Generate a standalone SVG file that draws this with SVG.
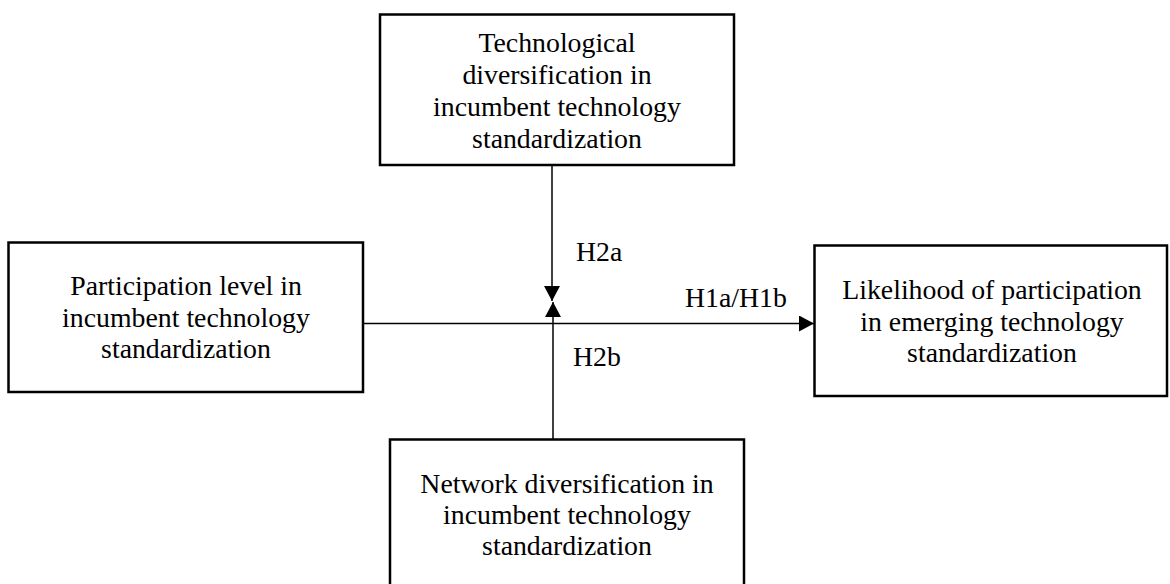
<svg xmlns="http://www.w3.org/2000/svg" width="1170" height="584" viewBox="0 0 1170 584">
  <style>
    .box { fill: #ffffff; stroke: #000000; stroke-width: 2.5; }
    .label { font-family: "Liberation Serif", "Times New Roman", serif; font-size: 27.8px; fill: #000000; }
    .mid { text-anchor: middle; }
    .edge { stroke: #000000; stroke-width: 1.5; fill: none; }
  </style>
  <defs>
    <marker id="arrow" viewBox="0 0 15 16" refX="15" refY="8" markerWidth="15" markerHeight="16" markerUnits="userSpaceOnUse" orient="auto">
      <path d="M0,0 L15,8 L0,16 Z" fill="#000000"/>
    </marker>
  </defs>

  <rect width="1170" height="584" fill="#ffffff"/>

  <g id="connectors">
    <line class="edge" x1="364" y1="323.5" x2="814" y2="323.5" marker-end="url(#arrow)"/>
    <line class="edge" x1="552" y1="166" x2="552" y2="301" marker-end="url(#arrow)"/>
    <line class="edge" x1="553" y1="439" x2="553" y2="302" marker-end="url(#arrow)"/>
    <text class="label" x="576" y="261">H2a</text>
    <text class="label" x="685" y="307">H1a/H1b</text>
    <text class="label" x="573" y="366">H2b</text>
  </g>

  <g id="tech-diversification">
    <rect class="box" x="380" y="14.5" width="354" height="150.5"/>
    <text class="label mid" x="557" y="52">Technological</text>
    <text class="label mid" x="557" y="84">diversification in</text>
    <text class="label mid" x="557" y="116">incumbent technology</text>
    <text class="label mid" x="557" y="148">standardization</text>
  </g>

  <g id="participation-level">
    <rect class="box" x="8.5" y="242.5" width="354.5" height="149.5"/>
    <text class="label mid" x="186" y="295">Participation level in</text>
    <text class="label mid" x="186" y="327">incumbent technology</text>
    <text class="label mid" x="186" y="358">standardization</text>
  </g>

  <g id="emerging-participation">
    <rect class="box" x="814.5" y="245.5" width="352.5" height="150.5"/>
    <text class="label mid" x="992" y="299">Likelihood of participation</text>
    <text class="label mid" x="992" y="331">in emerging technology</text>
    <text class="label mid" x="992" y="362">standardization</text>
  </g>

  <g id="network-diversification">
    <rect class="box" x="390" y="439.5" width="354" height="160"/>
    <text class="label mid" x="567" y="493">Network diversification in</text>
    <text class="label mid" x="567" y="524">incumbent technology</text>
    <text class="label mid" x="567" y="555">standardization</text>
  </g>
</svg>
